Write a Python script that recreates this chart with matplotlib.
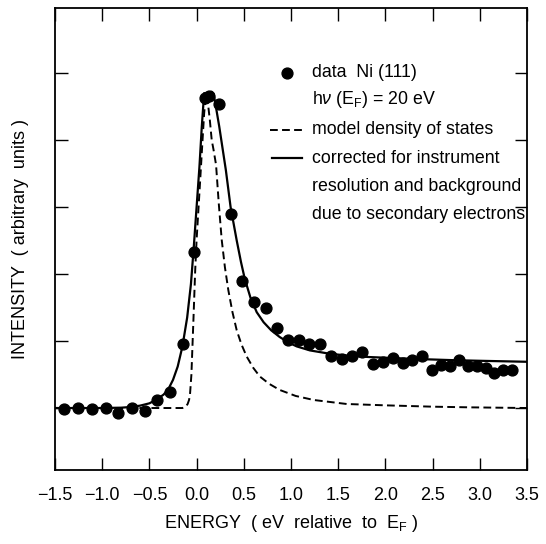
import matplotlib
matplotlib.use("Agg")
import matplotlib.pyplot as plt
from matplotlib.lines import Line2D

plt.rcParams['font.family'] = ['Liberation Sans', 'DejaVu Sans']
plt.rcParams['mathtext.fontset'] = 'custom'
plt.rcParams['mathtext.rm'] = 'Liberation Sans'
plt.rcParams['mathtext.it'] = 'Liberation Sans:italic'
plt.rcParams['mathtext.bf'] = 'Liberation Sans:bold'

# ---- data ----
data_x = [-1.405, -1.253, -1.111, -0.963, -0.829, -0.687, -0.547, -0.416, -0.282, -0.147,
          -0.024, 0.089, 0.135, 0.237, 0.361, 0.484, 0.608, 0.732, 0.855, 0.971,
          1.082, 1.194, 1.307, 1.424, 1.537, 1.649, 1.755, 1.866, 1.971, 2.077,
          2.183, 2.285, 2.385, 2.490, 2.586, 2.684, 2.780, 2.878, 2.967, 3.063,
          3.154, 3.249, 3.344]
data_y = [-0.02, 0.00, -0.01, 0.00, -0.07, 0.00, -0.05, 0.12, 0.24, 0.95,
          2.33, 4.62, 4.65, 4.54, 2.89, 1.90, 1.58, 1.50, 1.20, 1.02,
          1.02, 0.95, 0.95, 0.77, 0.73, 0.77, 0.84, 0.65, 0.69, 0.75,
          0.67, 0.72, 0.78, 0.57, 0.64, 0.62, 0.72, 0.63, 0.63, 0.59,
          0.53, 0.57, 0.57]

model_x = [-1.5, -0.5, -0.15, -0.115, -0.095, -0.08, -0.07, -0.055, -0.035, -0.015,
           0.0, 0.02, 0.04, 0.06, 0.08, 0.1, 0.12, 0.14, 0.16, 0.18,
           0.206, 0.235, 0.266, 0.30, 0.336, 0.38, 0.425, 0.475, 0.53, 0.60,
           0.67, 0.77, 0.88, 1.05, 1.24, 1.59, 2.0, 2.5, 2.9, 3.5]
model_y = [0.0, 0.0, 0.0, 0.02, 0.06, 0.12, 0.2, 0.5, 1.26, 2.05,
           2.51, 2.98, 3.45, 3.93, 4.4, 4.68, 4.55, 4.3, 4.0, 3.85,
           3.63, 3.05, 2.51, 2.1, 1.76, 1.43, 1.16, 0.95, 0.77, 0.6,
           0.47, 0.36, 0.27, 0.18, 0.12, 0.06, 0.04, 0.02, 0.01, 0.0]

fit_x = [-1.5, -1.0, -0.8, -0.7, -0.6, -0.5, -0.42, -0.35, -0.3, -0.25,
         -0.2, -0.15, -0.1, -0.06, -0.03, 0.0, 0.03, 0.055, 0.08, 0.1,
         0.12, 0.14, 0.16, 0.18, 0.21, 0.24, 0.31, 0.36, 0.425, 0.47,
         0.51, 0.57, 0.637, 0.71, 0.79, 0.88, 0.97, 1.06, 1.2, 1.41,
         1.62, 1.84, 2.1, 2.37, 2.7, 3.0, 3.5]
fit_y = [0.0, 0.0, 0.005, 0.015, 0.035, 0.07, 0.13, 0.2, 0.28, 0.42,
         0.62, 0.92, 1.35, 1.85, 2.4, 3.0, 3.6, 4.2, 4.7, 4.68,
         4.62, 4.66, 4.72, 4.69, 4.45, 4.2, 3.55, 3.0, 2.5, 2.18,
         1.93, 1.65, 1.43, 1.28, 1.16, 1.06, 0.98, 0.92, 0.86, 0.81,
         0.78, 0.76, 0.745, 0.73, 0.715, 0.705, 0.69]

x_ticks = [-1.5, -1.0, -0.5, 0.0, 0.5, 1.0, 1.5, 2.0, 2.5, 3.0, 3.5]
x_tick_labels = ['\u22121.5', '\u22121.0', '\u22120.5', '0.0', '0.5', '1.0',
                 '1.5', '2.0', '2.5', '3.0', '3.5']
y_ticks = [0, 1, 2, 3, 4, 5]

legend_texts = ['data  Ni (111)',
                r'h$\nu$ (E$_{\mathrm{F}}$) = 20 eV',
                'model density of states',
                'corrected for instrument',
                'resolution and background',
                'due to secondary electrons']

# ---- figure ----
fig = plt.figure(figsize=(5.46, 5.44), dpi=100)
ax = fig.add_axes([55/546, 1-470/544, 472/546, 462/544])

ax.plot(model_x, model_y, color='black', lw=1.4, linestyle=(0, (4, 2.2)))
ax.plot(fit_x, fit_y, color='black', lw=1.6)
ax.plot(data_x, data_y, 'o', color='black', ms=7.8, mec='black', clip_on=False)

ax.set_xlim(-1.5, 3.5)
ax.set_ylim(-0.925, 5.97)
ax.set_xticks(x_ticks)
ax.set_xticklabels(x_tick_labels, fontsize=13)
ax.set_yticks(y_ticks)
ax.set_yticklabels([])
ax.tick_params(direction='in', length=9, width=1.0, top=True, right=True,
               pad=12, colors='black')
for s in ax.spines.values():
    s.set_linewidth(1.3)

ax.set_xlabel(r'ENERGY  ( eV  relative  to  E$_{\mathrm{F}}$ )', fontsize=13, labelpad=7)
ax.set_ylabel('INTENSITY  ( arbitrary  units )', fontsize=13, labelpad=7)

# legend (drawn as text in axes coordinates)
tx = 0.544
rows = [0.860, 0.801, 0.737, 0.675, 0.613, 0.552]
for t, yy in zip(legend_texts, rows):
    ax.text(tx, yy, t, transform=ax.transAxes, fontsize=12.8, va='center', ha='left')
ax.add_line(Line2D([0.491], [0.860], marker='o', ms=7.8, color='black',
                   transform=ax.transAxes))
ax.add_line(Line2D([0.455, 0.525], [0.737, 0.737], color='black', lw=1.4,
                   linestyle=(0, (4, 2.2)), transform=ax.transAxes))
ax.add_line(Line2D([0.460, 0.523], [0.675, 0.675], color='black', lw=1.6,
                   transform=ax.transAxes))

fig.savefig('out.png', dpi=100)
